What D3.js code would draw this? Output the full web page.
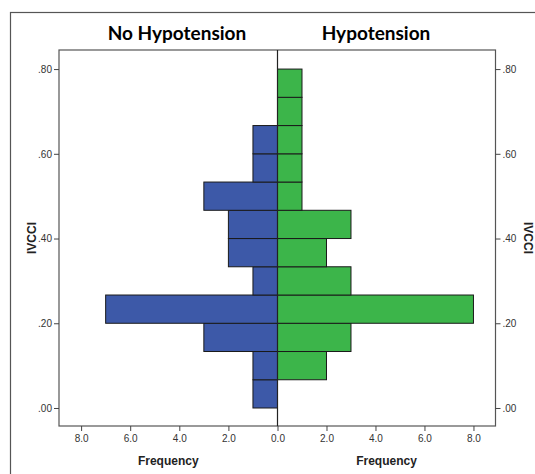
<!DOCTYPE html>
<html>
<head>
<meta charset="utf-8">
<script src="https://cdn.jsdelivr.net/npm/d3@7"></script>
<style>
  body { margin: 0; background: #fff; }
  text { font-family: Arial, "Liberation Sans", sans-serif; }
</style>
</head>
<body>
<div id="chart"></div>
<script>
const width = 535;
const height = 474;

// bins of IVCCI, 12 bins from 0 to .80
const binEdges = d3.range(13).map(i => i * 0.8 / 12);
// counts per bin, bottom bin first
const noHypo = [1, 1, 3, 7, 1, 2, 2, 3, 1, 1, 0, 0];
const hypo = [0, 2, 3, 8, 3, 2, 3, 1, 1, 1, 1, 1];
const xTicks = [0, 2, 4, 6, 8];
const yTicks = [0, 0.2, 0.4, 0.6, 0.8];

const plotLeft = 59, plotMid = 277.5, plotRight = 495.5;
const plotTop = 50, plotBottom = 426;

const svg = d3.select("#chart")
  .append("svg")
  .attr("width", width)
  .attr("height", height);

// outer frame (cut off by the picture edges)
svg.append("rect")
  .attr("x", 10.5).attr("y", 12.5)
  .attr("width", 540).attr("height", 480)
  .attr("fill", "none").attr("stroke", "#555").attr("stroke-width", 1.2);

const y = d3.scaleLinear().domain([-0.0425, 0.845]).range([plotBottom, plotTop]);
const xL = d3.scaleLinear().domain([0, 8.9]).range([plotMid, plotLeft]);
const xR = d3.scaleLinear().domain([0, 8.9]).range([plotMid, plotRight]);

// plot box
svg.append("rect")
  .attr("x", plotLeft).attr("y", plotTop)
  .attr("width", plotRight - plotLeft).attr("height", plotBottom - plotTop)
  .attr("fill", "#fff").attr("stroke", "#555").attr("stroke-width", 1.2);

const bins = noHypo.map((d, i) => ({ lo: binEdges[i], hi: binEdges[i + 1], a: d, b: hypo[i] }));

svg.append("g").selectAll("rect")
  .data(bins.filter(d => d.a > 0))
  .enter().append("rect")
  .attr("x", d => xL(d.a))
  .attr("y", d => y(d.hi))
  .attr("width", d => xL(0) - xL(d.a))
  .attr("height", d => y(d.lo) - y(d.hi))
  .attr("fill", "#3d59a8")
  .attr("stroke", "#1a1a1a").attr("stroke-width", 1);

svg.append("g").selectAll("rect")
  .data(bins.filter(d => d.b > 0))
  .enter().append("rect")
  .attr("x", xR(0))
  .attr("y", d => y(d.hi))
  .attr("width", d => xR(d.b) - xR(0))
  .attr("height", d => y(d.lo) - y(d.hi))
  .attr("fill", "#3cb54a")
  .attr("stroke", "#1a1a1a").attr("stroke-width", 1);

// center line
svg.append("line")
  .attr("x1", plotMid).attr("x2", plotMid)
  .attr("y1", plotTop).attr("y2", plotBottom)
  .attr("stroke", "#222").attr("stroke-width", 1.2);

function styleAxis(g) {
  g.select(".domain").remove();
  g.selectAll(".tick line").attr("stroke", "#444");
  g.selectAll(".tick text").attr("fill", "#333").style("font-size", "10px");
}

const fmtY = d => d3.format(".2f")(d).replace(/^0/, "");

svg.append("g")
  .attr("transform", `translate(${plotLeft},0)`)
  .call(d3.axisLeft(y).tickValues(yTicks).tickFormat(fmtY).tickSize(5).tickPadding(2))
  .call(styleAxis);

svg.append("g")
  .attr("transform", `translate(${plotRight},0)`)
  .call(d3.axisRight(y).tickValues(yTicks).tickFormat(fmtY).tickSize(5).tickPadding(2))
  .call(styleAxis);

svg.append("g")
  .attr("transform", `translate(0,${plotBottom})`)
  .call(d3.axisBottom(xL).tickValues(xTicks.filter(d => d > 0)).tickFormat(d3.format(".1f")).tickSize(5).tickPadding(4))
  .call(styleAxis);

svg.append("g")
  .attr("transform", `translate(0,${plotBottom})`)
  .call(d3.axisBottom(xR).tickValues(xTicks).tickFormat(d3.format(".1f")).tickSize(5).tickPadding(4))
  .call(styleAxis);

// titles
svg.append("text")
  .attr("x", 177).attr("y", 40)
  .attr("text-anchor", "middle")
  .style("font-family", "Lato, 'Open Sans', sans-serif")
  .style("font-weight", "bold").style("font-size", "19px")
  .text("No Hypotension");

svg.append("text")
  .attr("x", 376).attr("y", 40)
  .attr("text-anchor", "middle")
  .style("font-family", "Lato, 'Open Sans', sans-serif")
  .style("font-weight", "bold").style("font-size", "19px")
  .text("Hypotension");

// axis titles
svg.append("text")
  .attr("x", (plotLeft + plotMid) / 2).attr("y", 465)
  .attr("text-anchor", "middle")
  .style("font-weight", "bold").style("font-size", "12px")
  .attr("fill", "#222")
  .text("Frequency");

svg.append("text")
  .attr("x", (plotMid + plotRight) / 2).attr("y", 465)
  .attr("text-anchor", "middle")
  .style("font-weight", "bold").style("font-size", "12px")
  .attr("fill", "#222")
  .text("Frequency");

svg.append("text")
  .attr("transform", `translate(36,${(plotTop + plotBottom) / 2}) rotate(-90)`)
  .attr("text-anchor", "middle")
  .style("font-weight", "bold").style("font-size", "12px")
  .attr("fill", "#222")
  .text("IVCCI");

svg.append("text")
  .attr("transform", `translate(524,${(plotTop + plotBottom) / 2}) rotate(90)`)
  .attr("text-anchor", "middle")
  .style("font-weight", "bold").style("font-size", "12px")
  .attr("fill", "#222")
  .text("IVCCI");
</script>
</body>
</html>
